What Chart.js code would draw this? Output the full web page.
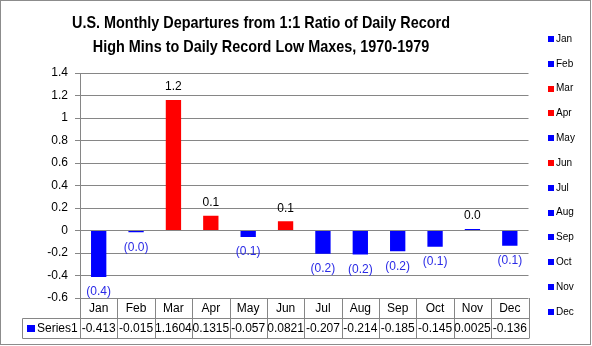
<!DOCTYPE html>
<html lang="en">
<head>
    <meta charset="UTF-8">
    <title>Record High Mins vs Record Low Maxes</title>
    <script src="https://cdn.jsdelivr.net/npm/chart.js"></script>
    <style>
        html, body { margin: 0; padding: 0; background: #fff; }
        #chart { display: block; }
    </style>
</head>
<body>
    <canvas id="chart" width="592" height="346"></canvas>
<script>
    // Chart data
    const months = ['Jan', 'Feb', 'Mar', 'Apr', 'May', 'Jun', 'Jul', 'Aug', 'Sep', 'Oct', 'Nov', 'Dec'];
    const series1 = [-0.413, -0.015, 1.1604, 0.1315, -0.057, 0.0821, -0.207, -0.214, -0.185, -0.145, 0.0025, -0.136];
    const tableText = ['-0.413', '-0.015', '1.1604', '0.1315', '-0.057', '0.0821', '-0.207', '-0.214', '-0.185', '-0.145', '0.0025', '-0.136'];
    const redMonths = ['Mar', 'Apr', 'Jun'];
    const titleLines = ['U.S. Monthly Departures from 1:1 Ratio of Daily Record', 'High Mins to Daily Record Low Maxes, 1970-1979'];
    const seriesName = 'Series1';

    const RED = '#ff0000';
    const BLUE = '#0000ff';
    const GRID = '#868686';
    const FONT = '"Liberation Sans", Arial, sans-serif';

    const barColors = months.map(m => redMonths.includes(m) ? RED : BLUE);

    function fmtLabel(v) {
        const s = Math.abs(v).toFixed(1);
        return v < 0 ? '(' + s + ')' : s;
    }

    // Draws title, labels, legend, data table and frame
    const extras = {
        id: 'extras',
        afterDatasetsDraw(chart) {
            const ctx = chart.ctx;
            const meta = chart.getDatasetMeta(0);
            ctx.save();
            ctx.font = '12px ' + FONT;
            ctx.textAlign = 'center';
            ctx.textBaseline = 'middle';
            meta.data.forEach((bar, i) => {
                const v = series1[i];
                if (v < 0) {
                    ctx.fillStyle = '#2a2ae6';
                    ctx.fillText(fmtLabel(v), bar.x, bar.y + 15);
                } else {
                    ctx.fillStyle = '#000';
                    ctx.fillText(fmtLabel(v), bar.x, bar.y - 13);
                }
            });
            ctx.restore();
        },
        afterDraw(chart) {
            const ctx = chart.ctx;
            const area = chart.chartArea;
            const x = chart.scales.x;
            ctx.save();

            // title, squeezed sideways to look like a narrow face
            ctx.fillStyle = '#000';
            ctx.textAlign = 'center';
            ctx.textBaseline = 'middle';
            ctx.font = 'bold 17px ' + FONT;
            const w = ctx.measureText(titleLines[0]).width;
            const sx = Math.min(1, 378 / w);
            ctx.save();
            ctx.translate(261, 0);
            ctx.scale(sx, 1);
            ctx.fillText(titleLines[0], 0, 23);
            ctx.fillText(titleLines[1], 0, 47);
            ctx.restore();

            // legend
            ctx.font = '10px ' + FONT;
            ctx.textAlign = 'left';
            months.forEach((m, i) => {
                const cy = 39 + i * 24.8;
                ctx.fillStyle = barColors[i];
                ctx.fillRect(548, Math.round(cy) - 3, 6, 6);
                ctx.fillStyle = '#000';
                ctx.fillText(m, 556, cy);
            });

            // data table
            const top = area.bottom;
            const mid = top + 20;
            const bot = top + 40;
            const n = months.length;
            const cw = (area.right - area.left) / n;
            ctx.strokeStyle = GRID;
            ctx.lineWidth = 1;
            ctx.beginPath();
            for (let i = 0; i <= n; i++) {
                const bx = Math.round(area.left + i * cw) + 0.5;
                ctx.moveTo(bx, top);
                ctx.lineTo(bx, bot);
            }
            ctx.moveTo(22.5, Math.round(mid) + 0.5);
            ctx.lineTo(Math.round(area.right) + 0.5, Math.round(mid) + 0.5);
            ctx.moveTo(22.5, Math.round(bot) + 0.5);
            ctx.lineTo(Math.round(area.right) + 0.5, Math.round(bot) + 0.5);
            ctx.moveTo(22.5, Math.round(mid) + 0.5);
            ctx.lineTo(22.5, Math.round(bot) + 0.5);
            ctx.stroke();

            ctx.fillStyle = '#000';
            ctx.font = '12px ' + FONT;
            ctx.textAlign = 'center';
            months.forEach((m, i) => {
                const cx = x.getPixelForValue(i);
                ctx.fillText(m, cx, top + 10.5);
                ctx.fillText(tableText[i], cx, mid + 10.5);
            });
            ctx.fillStyle = BLUE;
            ctx.fillRect(27, mid + 7, 8, 7);
            ctx.fillStyle = '#000';
            ctx.textAlign = 'left';
            ctx.fillText(seriesName, 37, mid + 10.5);

            // outer frame
            ctx.strokeStyle = '#8c8c8c';
            ctx.strokeRect(0.5, 0.5, 590, 344);
            ctx.restore();
        }
    };

    new Chart(document.getElementById('chart'), {
        type: 'bar',
        data: {
            labels: months,
            datasets: [{
                label: seriesName,
                data: series1,
                backgroundColor: barColors,
                borderWidth: 0,
                minBarLength: 1.5,
                barPercentage: 0.41,
                categoryPercentage: 1
            }]
        },
        options: {
            responsive: false,
            animation: false,
            devicePixelRatio: 1,
            layout: {
                padding: { top: 73, right: 63.5, bottom: 48, left: 0 }
            },
            plugins: {
                legend: { display: false },
                title: { display: false },
                tooltip: { enabled: false }
            },
            scales: {
                x: { display: false },
                y: {
                    min: -0.6,
                    max: 1.4,
                    afterFit(scale) { scale.width = 80; },
                    ticks: {
                        stepSize: 0.2,
                        color: '#000',
                        padding: 7,
                        font: { family: FONT, size: 12 },
                        callback: v => String(Math.round(v * 10) / 10)
                    },
                    grid: { color: GRID, tickLength: 5 },
                    border: { color: GRID }
                }
            }
        },
        plugins: [extras]
    });
</script>
</body>
</html>
